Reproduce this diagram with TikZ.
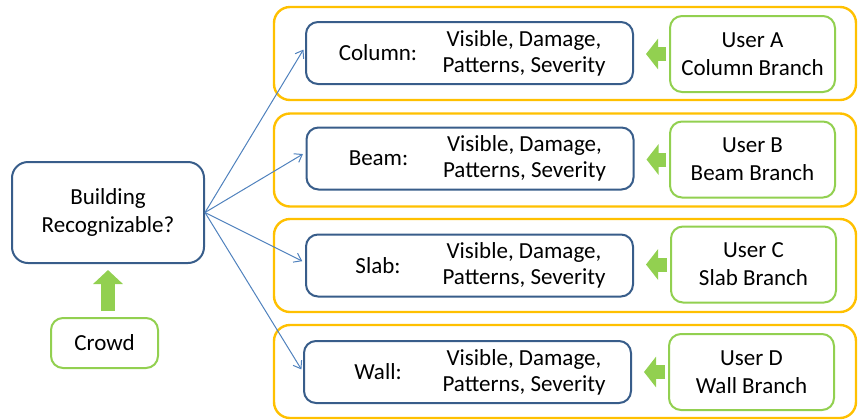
\documentclass[tikz,border=0pt]{standalone}
\usepackage{fontspec}
\setmainfont{Carlito}
\usetikzlibrary{arrows.meta, positioning}

\definecolor{boxblue}{HTML}{385D8A}
\definecolor{linkblue}{HTML}{4F81BD}
\definecolor{groupgold}{HTML}{FFC000}
\definecolor{crowdgreen}{HTML}{92D050}

\begin{document}
\begin{tikzpicture}[
  x=0.5pt, y=-0.5pt,
  font=\fontsize{11.5}{14}\selectfont,
  every node/.style={align=center},
  %% ─── styles ──────────────────────────────────────────────
  mainbox/.style={
    draw=boxblue, fill=white, rounded corners=8pt, line width=1pt,
    minimum width=96pt, minimum height=50.5pt
  },
  partbox/.style={
    draw=boxblue, fill=white, rounded corners=6pt, line width=1pt,
    minimum width=163.5pt, minimum height=31pt
  },
  userbox/.style={
    draw=crowdgreen, fill=white, rounded corners=6pt, line width=1pt,
    minimum width=82.5pt, minimum height=38pt
  },
  groupbox/.style={
    draw=groupgold, rounded corners=8pt, line width=1.2pt,
    minimum width=291pt, minimum height=46.5pt
  },
  parttag/.style={inner sep=0pt},
  partdesc/.style={inner sep=0pt, font=\fontsize{11.5}{13}\selectfont},
  fatarrow/.style={crowdgreen, line width=7pt, -{Triangle[length=7pt, width=14.5pt]}},
  smallarrow/.style={crowdgreen, line width=7pt, -{Triangle[length=6pt, width=15pt]}},
  link/.style={linkblue, line width=0.5pt, -{Straight Barb[length=3.5pt, width=5pt]}}
]

  \useasboundingbox (0,0) rectangle (858,419);

  %% ─── 1. Group frames ─────────────────────────────────────
  \node[groupbox] (ColumnGroup) at (565, 53.5) {};
  \node[groupbox] (BeamGroup) at (565, 160) {};
  \node[groupbox] (SlabGroup) at (565, 265.5) {};
  \node[groupbox] (WallGroup) at (565, 371.5) {};

  %% ─── 2. Left side: building + crowd ──────────────────────
  \node[mainbox] (Building) at (108, 212.5) {Building\\Recognizable?};
  \node[userbox, minimum width=53.5pt, minimum height=25pt] (Crowd) at (104.5, 343) {Crowd};

  \draw[fatarrow, shorten <=3pt, shorten >=3pt] (Building.south |- Crowd.north) -- (Building.south);

  %% ─── 3. Element boxes ────────────────────────────────────
  \node[partbox] (Column) at (469.5, 53) {};
  \node[parttag] (ColumnTag) at ([xshift=-45.75pt]Column.center) {Column:};
  \node[partdesc] (ColumnDesc) at ([xshift=27.25pt]Column.center) {Visible, Damage,\\Patterns, Severity};

  \node[partbox] (Beam) at (470, 158.5) {};
  \node[parttag] (BeamTag) at ([xshift=-45.75pt]Beam.center) {Beam:};
  \node[partdesc] (BeamDesc) at ([xshift=27.25pt]Beam.center) {Visible, Damage,\\Patterns, Severity};

  \node[partbox] (Slab) at (469.5, 265.5) {};
  \node[parttag] (SlabTag) at ([xshift=-45.75pt]Slab.center) {Slab:};
  \node[partdesc] (SlabDesc) at ([xshift=27.25pt]Slab.center) {Visible, Damage,\\Patterns, Severity};

  \node[partbox] (Wall) at (467.5, 372) {};
  \node[parttag] (WallTag) at ([xshift=-44.75pt]Wall.center) {Wall:};
  \node[partdesc] (WallDesc) at ([xshift=28.25pt]Wall.center) {Visible, Damage,\\Patterns, Severity};

  %% ─── 4. User branches ────────────────────────────────────
  \node[userbox] (UserA) at (752.5, 54) {User A\\Column Branch};
  \node[userbox] (UserB) at (752.5, 159.5) {User B\\Beam Branch};
  \node[userbox] (UserC) at (753.5, 264.5) {User C\\Slab Branch};
  \node[userbox] (UserD) at (751.5, 372) {User D\\Wall Branch};

  \draw[smallarrow, shorten <=1.5pt, shorten >=6pt] (UserA.west) -- (UserA.west -| Column.east);
  \draw[smallarrow, shorten <=1.5pt, shorten >=6pt] (UserB.west) -- (UserB.west -| Beam.east);
  \draw[smallarrow, shorten <=1.5pt, shorten >=6pt] (UserC.west) -- (UserC.west -| Slab.east);
  \draw[smallarrow, shorten <=1.5pt, shorten >=6pt] (UserD.west) -- (UserD.west -| Wall.east);

  %% ─── 5. Links from the building question ─────────────────
  \draw[link, shorten >=1.5pt] (Building.east) -- ([yshift=3pt]Column.west);
  \draw[link, shorten >=1.5pt] (Building.east) -- ([yshift=3pt]Beam.west);
  \draw[link, shorten >=1.5pt] (Building.east) -- ([yshift=1.5pt]Slab.west);
  \draw[link, shorten >=1.5pt] (Building.east) -- (Wall.west);

\end{tikzpicture}
\end{document}
